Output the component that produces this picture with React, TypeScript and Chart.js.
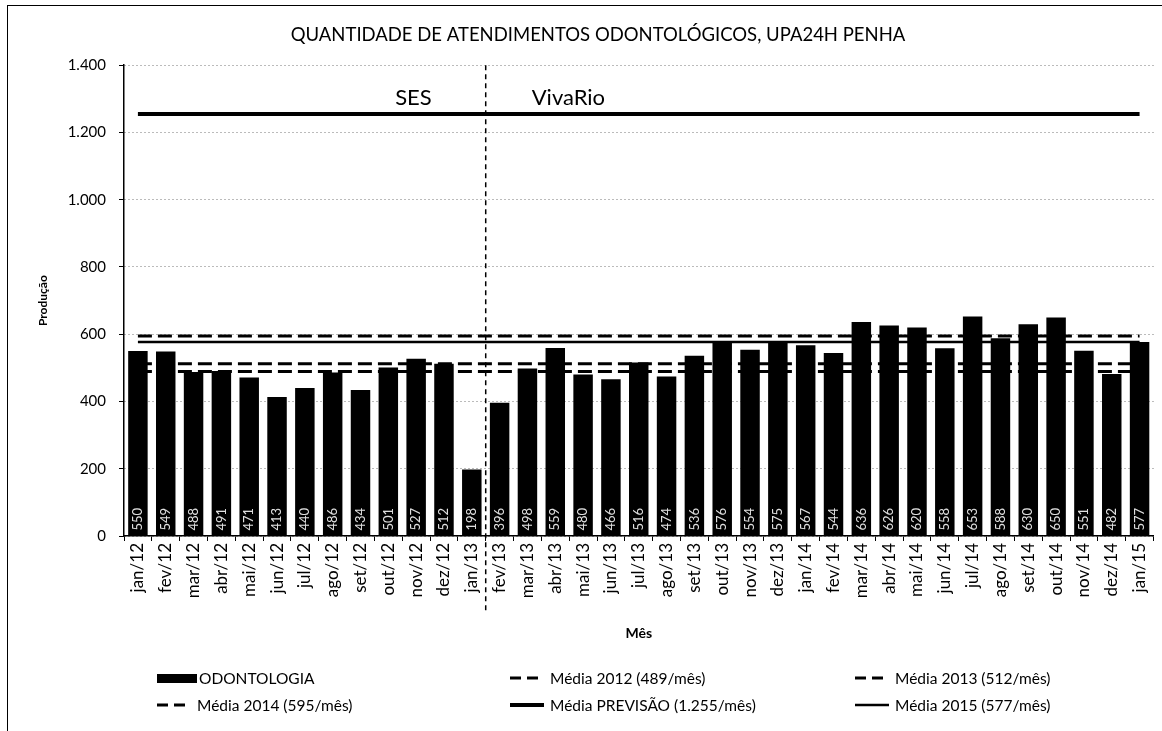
import React, { useEffect, useRef } from "react";
import { Chart, registerables } from "chart.js";

Chart.register(...registerables);

// ---------- DATA ----------
const TITLE = "QUANTIDADE DE ATENDIMENTOS ODONTOLÓGICOS, UPA24H PENHA";
const months = [
  "jan/12", "fev/12", "mar/12", "abr/12", "mai/12", "jun/12", "jul/12", "ago/12", "set/12", "out/12", "nov/12", "dez/12",
  "jan/13", "fev/13", "mar/13", "abr/13", "mai/13", "jun/13", "jul/13", "ago/13", "set/13", "out/13", "nov/13", "dez/13",
  "jan/14", "fev/14", "mar/14", "abr/14", "mai/14", "jun/14", "jul/14", "ago/14", "set/14", "out/14", "nov/14", "dez/14",
  "jan/15",
];
const odontologia = [
  550, 549, 488, 491, 471, 413, 440, 486, 434, 501, 527, 512,
  198, 396, 498, 559, 480, 466, 516, 474, 536, 576, 554, 575,
  567, 544, 636, 626, 620, 558, 653, 588, 630, 650, 551, 482,
  577,
];
const MEDIA_2012 = 489;
const MEDIA_2013 = 512;
const MEDIA_2014 = 595;
const MEDIA_PREVISAO = 1255;
const MEDIA_2015 = 577;
const yTicks = [0, 200, 400, 600, 800, 1000, 1200, 1400];
const SPLIT_MONTH = "fev/13";
const eras = ["SES", "VivaRio"];
const X_TITLE = "Mês";
const Y_TITLE = "Produção";

// ---------- STYLE ----------
const FONT = "Lato, 'Open Sans', sans-serif";
const fmt = (v: number) => String(v).replace(/\B(?=(\d{3})+(?!\d))/g, ".");

type Series = { label: string; value?: number; dash: number[]; width: number; kind: "bar" | "line" };
const lineSeries: Series[] = [
  { label: "Média 2012 (489/mês)", value: MEDIA_2012, dash: [14, 6], width: 3, kind: "line" },
  { label: "Média 2013 (512/mês)", value: MEDIA_2013, dash: [14, 6], width: 3, kind: "line" },
  { label: "Média 2014 (595/mês)", value: MEDIA_2014, dash: [14, 6], width: 3, kind: "line" },
  { label: "Média PREVISÃO (1.255/mês)", value: MEDIA_PREVISAO, dash: [], width: 4, kind: "line" },
  { label: "Média 2015 (577/mês)", value: MEDIA_2015, dash: [], width: 2.5, kind: "line" },
];
const BAR_LABEL = "ODONTOLOGIA";

// legend layout (order: bar, 2012, 2013, 2014, previsão, 2015)
const legendPos = [
  { x: 157, y: 678 }, { x: 510, y: 678 }, { x: 855, y: 678 },
  { x: 157, y: 705 }, { x: 510, y: 705 }, { x: 855, y: 705 },
];

const barLabelPlugin = {
  id: "barLabels",
  afterDatasetsDraw(chart: any) {
    const meta = chart.getDatasetMeta(0);
    const ctx = chart.ctx;
    ctx.save();
    ctx.fillStyle = "#e0e0e0";
    ctx.font = `13px ${FONT}`;
    ctx.textAlign = "left";
    ctx.textBaseline = "middle";
    meta.data.forEach((bar: any, i: number) => {
      ctx.save();
      ctx.translate(bar.x, bar.base - 5);
      ctx.rotate(-Math.PI / 2);
      ctx.fillText(String(odontologia[i]), 0, 0);
      ctx.restore();
    });
    ctx.restore();
  },
};

const separatorPlugin = {
  id: "separator",
  afterDraw(chart: any) {
    const xs = chart.scales.x;
    const idx = months.indexOf(SPLIT_MONTH);
    const x = (xs.getPixelForValue(idx - 1) + xs.getPixelForValue(idx)) / 2;
    const { top, bottom } = chart.chartArea;
    const ctx = chart.ctx;
    ctx.save();
    ctx.strokeStyle = "#000";
    ctx.lineWidth = 1.5;
    ctx.setLineDash([5, 4]);
    ctx.beginPath();
    ctx.moveTo(x, top);
    ctx.lineTo(x, bottom + 76);
    ctx.stroke();
    ctx.setLineDash([]);
    ctx.fillStyle = "#000";
    ctx.font = `22px ${FONT}`;
    ctx.textBaseline = "middle";
    ctx.textAlign = "right";
    ctx.fillText(eras[0], x - 54, top + 33);
    ctx.textAlign = "left";
    ctx.fillText(eras[1], x + 46, top + 33);
    ctx.restore();
  },
};

function LegendSymbol({ s }: { s: Series }) {
  if (s.kind === "bar") {
    return <div style={{ width: 40, height: 9, background: "#000", marginRight: 2 }} />;
  }
  return (
    <svg width={34} height={10} style={{ marginRight: 6 }}>
      <line x1={0} y1={5} x2={34} y2={5} stroke="#000" strokeWidth={s.width} strokeDasharray={s.dash.length ? "11 6" : undefined} />
    </svg>
  );
}

export default function App() {
  const ref = useRef<HTMLCanvasElement>(null);
  useEffect(() => {
    if (!ref.current) return;
    const last = months.length - 1;
    const chart = new Chart(ref.current, {
      type: "bar",
      data: {
        labels: months,
        datasets: [
          {
            type: "bar",
            label: BAR_LABEL,
            data: odontologia,
            backgroundColor: "#000",
            barPercentage: 0.7,
            categoryPercentage: 1,
            grouped: false,
            order: 2,
          } as any,
          ...lineSeries.map((s) => ({
            type: "line",
            label: s.label,
            xAxisID: "xl",
            data: [
              { x: 0, y: s.value },
              { x: last, y: s.value },
            ],
            borderColor: "#000",
            borderWidth: s.width,
            borderDash: s.dash,
            pointRadius: 0,
            fill: false,
            order: 1,
          })),
        ],
      },
      options: {
        animation: false,
        responsive: false,
        layout: { padding: { left: 36, right: 2, top: 0, bottom: 85 } },
        plugins: {
          legend: { display: false },
          tooltip: { enabled: false },
          title: {
            display: true,
            text: TITLE,
            color: "#000",
            font: { family: FONT, size: 18.5, weight: "normal" },
            padding: { top: 24, bottom: 19 },
          },
        },
        scales: {
          x: {
            type: "category",
            offset: true,
            grid: { offset: true, drawOnChartArea: false, drawTicks: true, tickLength: 5, color: "#000" },
            border: { display: true, color: "#000", width: 1.5 },
            ticks: {
              autoSkip: false,
              maxRotation: 90,
              minRotation: 90,
              color: "#000",
              padding: 2,
              font: { family: FONT, size: 17 },
            },
            title: {
              display: true,
              text: X_TITLE,
              color: "#000",
              font: { family: FONT, size: 14, weight: "bold" },
              padding: { top: 4, bottom: 4 },
            },
            afterFit: (s: any) => { s.height = 110; },
          },
          xl: {
            type: "linear",
            display: false,
            offset: false,
            bounds: "ticks",
            min: -0.5,
            max: months.length - 0.5,
            grid: { offset: false },
          },
          y: {
            min: yTicks[0],
            max: yTicks[yTicks.length - 1],
            afterBuildTicks: (s: any) => { s.ticks = yTicks.map((v) => ({ value: v })); },
            ticks: {
              color: "#000",
              padding: 13,
              font: { family: FONT, size: 15 },
              callback: (v: any) => fmt(Number(v)),
            },
            grid: { color: "#777", tickColor: "#000", tickLength: 5 },
            border: { display: true, color: "#000", width: 1.5, dash: [1, 3] },
            title: {
              display: true,
              text: Y_TITLE,
              color: "#000",
              font: { family: FONT, size: 12, weight: "bold" },
              padding: { top: 0, bottom: 4 },
            },
            afterFit: (s: any) => { s.width = 88; },
          },
        },
      } as any,
      plugins: [barLabelPlugin, separatorPlugin],
    });
    return () => chart.destroy();
  }, []);

  const legendItems: Series[] = [
    { label: BAR_LABEL, dash: [], width: 0, kind: "bar" },
    ...lineSeries,
  ];

  return (
    <div style={{ position: "absolute", left: 0, top: 0, width: 1162, height: 731, overflow: "hidden", background: "#fff" }}>
      <div style={{ position: "absolute", left: 7, top: 5, width: 1170, height: 760, border: "1px solid #000", boxSizing: "border-box" }} />
      <canvas ref={ref} width={1162} height={731} style={{ position: "absolute", left: 0, top: 0 }} />
      {legendItems.map((s, i) => (
        <div
          key={s.label}
          style={{
            position: "absolute",
            left: legendPos[i].x,
            top: legendPos[i].y - 9,
            height: 18,
            display: "flex",
            alignItems: "center",
            fontFamily: FONT,
            fontSize: 15.5,
            color: "#000",
            whiteSpace: "nowrap",
          }}
        >
          <LegendSymbol s={s} />
          <span>{s.label}</span>
        </div>
      ))}
    </div>
  );
}
